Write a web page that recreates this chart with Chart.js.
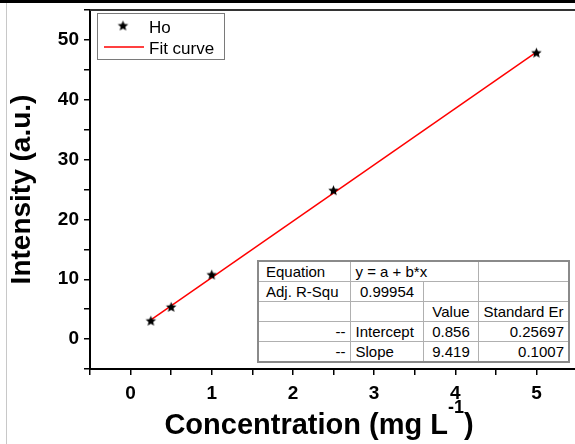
<!DOCTYPE html>
<html>
<head>
<meta charset="utf-8">
<script src="https://cdn.jsdelivr.net/npm/chart.js@4.4.1/dist/chart.umd.min.js"></script>
<style>
  html, body { margin: 0; padding: 0; background: #fff; overflow: hidden; }
  #wrap { position: absolute; left: 0; top: 0; width: 590px; height: 444px; }
  #topBand { position: absolute; left: 0; top: 0; width: 575px; height: 3px; background: #000; }
  #leftLine { position: absolute; left: 6px; top: 3px; width: 1px; height: 441px; background: #c8c8c8; }
  #fitTable {
    position: absolute; left: 257px; top: 260px; width: 311px;
    border-collapse: collapse; table-layout: fixed; background: #fff;
    border: 2px solid #8a8a8a;
    font: 15px "Liberation Sans", Arial, sans-serif; color: #000;
  }
  #fitTable td {
    border: 1px solid #b0b0b0; height: 19px; padding: 0 4px 0 5px;
    white-space: nowrap; overflow: hidden; line-height: 19px;
  }
  #fitTable td.c { text-align: center; }
  #fitTable td.r { text-align: right; }
  #fitTable td.first { padding-left: 7px; }
</style>
</head>
<body>
<div id="wrap"><canvas id="chart" width="590" height="444"></canvas></div>
<div id="topBand"></div>
<div id="leftLine"></div>
<table id="fitTable"></table>
<script>
// measured points
const conc = [0.25, 0.5, 1, 2.5, 5];
const intensity = [3.0, 5.3, 10.7, 24.8, 47.8];

// linear fit line ends
const fitConc = [0.25, 5];
const fitIntensity = [3.21, 47.95];

// fit results table
const equationText = "y = a + b*x";
const adjR2 = "0.99954";
const paramNames = ["Intercept", "Slope"];
const paramValues = ["0.856", "9.419"];
const paramErrors = ["0.25697", "0.1007"];

const seriesLabels = ["Ho", "Fit curve"];

// build the table
const table = document.getElementById("fitTable");
let rows = `
  <colgroup><col style="width:92px"><col style="width:73px"><col style="width:55px"><col style="width:91px"></colgroup>
  <tr><td class="first">Equation</td><td colspan="2">${equationText}</td><td></td></tr>
  <tr><td class="first">Adj. R-Squ</td><td class="c">${adjR2}</td><td></td><td></td></tr>
  <tr><td></td><td></td><td class="c">Value</td><td>Standard Er</td></tr>`;
paramNames.forEach((name, i) => {
  rows += `<tr><td class="r">--</td><td>${name}</td><td class="c">${paramValues[i]}</td><td class="r">${paramErrors[i]}</td></tr>`;
});
table.innerHTML = rows;

// filled five point star used as marker
function makeStar(r) {
  const c = document.createElement("canvas");
  const s = Math.ceil(r * 2 + 2);
  c.width = s; c.height = s;
  const g = c.getContext("2d");
  g.fillStyle = "#000";
  g.beginPath();
  for (let i = 0; i < 10; i++) {
    const rad = i % 2 === 0 ? r : r * 0.45;
    const ang = -Math.PI / 2 + i * Math.PI / 5;
    const px = s / 2 + rad * Math.cos(ang);
    const py = s / 2 + rad * Math.sin(ang);
    if (i === 0) g.moveTo(px, py); else g.lineTo(px, py);
  }
  g.closePath();
  g.fill();
  return c;
}
const starImg = makeStar(5.5);

const FONT = "'Liberation Sans', Arial, sans-serif";

const decorations = {
  id: "decorations",
  afterDraw(chart) {
    const { ctx, chartArea: a } = chart;
    ctx.save();

    // top and right frame
    ctx.strokeStyle = "#333";
    ctx.lineWidth = 2;
    ctx.beginPath();
    ctx.moveTo(a.left, a.top);
    ctx.lineTo(a.right, a.top);
    ctx.lineTo(a.right, a.bottom);
    ctx.stroke();

    // legend box
    const lx = a.left + 7.5, ly = a.top + 3.5;
    ctx.strokeStyle = "#7a7a7a";
    ctx.lineWidth = 1;
    ctx.strokeRect(lx, ly, 127, 46);
    ctx.drawImage(starImg, lx + 25.5 - starImg.width / 2, ly + 12.5 - starImg.height / 2);
    ctx.strokeStyle = "#ff0000";
    ctx.lineWidth = 1.5;
    ctx.beginPath();
    ctx.moveTo(lx + 6.5, ly + 33.5);
    ctx.lineTo(lx + 46.5, ly + 33.5);
    ctx.stroke();
    ctx.fillStyle = "#000";
    ctx.font = "17px " + FONT;
    ctx.textAlign = "left";
    ctx.textBaseline = "alphabetic";
    ctx.fillText(seriesLabels[0], lx + 51.5, ly + 19);
    ctx.fillText(seriesLabels[1], lx + 51.5, ly + 40);

    // y axis title
    ctx.save();
    ctx.translate(30, (a.top + a.bottom) / 2);
    ctx.rotate(-Math.PI / 2);
    ctx.font = "bold 28px " + FONT;
    ctx.textAlign = "center";
    ctx.fillText("Intensity (a.u.)", 0, 0);
    ctx.restore();

    // x axis title with superscript
    const main1 = "Concentration (mg L", sup = "-1", main2 = ")";
    ctx.font = "bold 29px " + FONT;
    const w1 = ctx.measureText(main1).width, w2 = ctx.measureText(main2).width;
    ctx.font = "bold 18px " + FONT;
    const ws = ctx.measureText(sup).width;
    let tx = a.left + 229 - (w1 + ws + w2) / 2;
    const base = 434;
    ctx.font = "bold 29px " + FONT;
    ctx.fillText(main1, tx, base);
    tx += w1;
    ctx.font = "bold 18px " + FONT;
    ctx.fillText(sup, tx, base - 21);
    tx += ws;
    ctx.font = "bold 29px " + FONT;
    ctx.fillText(main2, tx, base);

    ctx.restore();
  }
};

const tickFont = { family: FONT, size: 19, weight: "bold" };

new Chart(document.getElementById("chart").getContext("2d"), {
  type: "scatter",
  data: {
    datasets: [
      {
        label: seriesLabels[0],
        data: conc.map((x, i) => ({ x, y: intensity[i] })),
        pointStyle: starImg,
        pointRadius: 5,
        order: 0
      },
      {
        label: seriesLabels[1],
        data: fitConc.map((x, i) => ({ x, y: fitIntensity[i] })),
        showLine: true,
        borderColor: "#ff0000",
        borderWidth: 1.5,
        pointRadius: 0,
        order: 1
      }
    ]
  },
  options: {
    responsive: false,
    animation: false,
    devicePixelRatio: 1,
    layout: { padding: { top: 10, right: 13, left: 0, bottom: 0 } },
    plugins: {
      legend: { display: false },
      tooltip: { enabled: false }
    },
    scales: {
      x: {
        type: "linear",
        min: -0.5,
        max: 5.5,
        afterFit: (s) => { s.height = 75; s.paddingLeft = 0; s.paddingRight = 0; },
        ticks: {
          stepSize: 0.5,
          color: "#000",
          font: tickFont,
          padding: 7,
          maxRotation: 0,
          autoSkip: false,
          callback: (v) => Math.abs(v - Math.round(v)) < 1e-6 ? Math.round(v) : ""
        },
        grid: { drawOnChartArea: false, color: "#000", tickLength: 6, lineWidth: 1.5 },
        border: { display: true, color: "#000", width: 2 }
      },
      y: {
        min: -5,
        max: 55,
        afterFit: (s) => { s.width = 90; s.paddingTop = 0; s.paddingBottom = 0; },
        ticks: {
          stepSize: 5,
          color: "#000",
          font: tickFont,
          padding: 5,
          autoSkip: false,
          callback: (v) => (v % 10 === 0 && v >= 0 && v <= 50) ? v : ""
        },
        grid: { drawOnChartArea: false, color: "#000", tickLength: 6, lineWidth: 1.5 },
        border: { display: true, color: "#000", width: 2 }
      }
    }
  },
  plugins: [decorations]
});
</script>
</body>
</html>
